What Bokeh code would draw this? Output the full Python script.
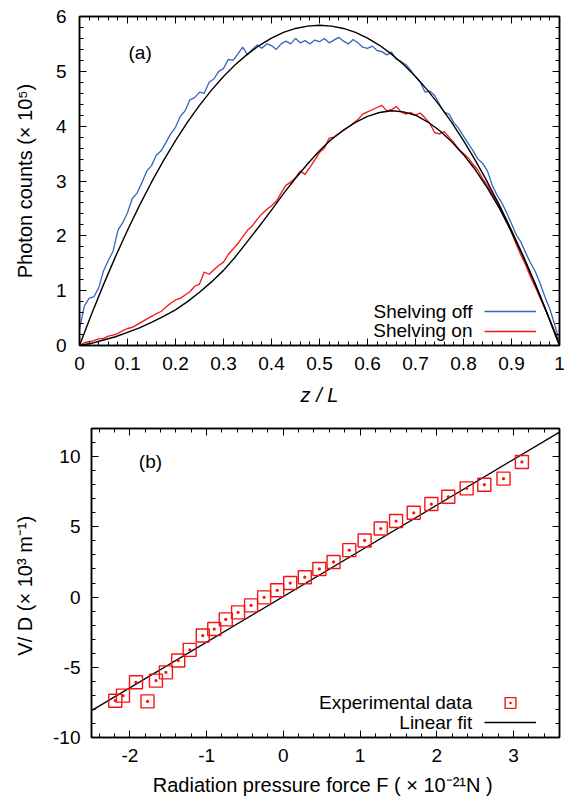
from bokeh.plotting import figure
from bokeh.layouts import column
from bokeh.models import (LinearAxis, SingleIntervalTicker, CustomJSTickFormatter,
                          Label, Legend, LegendItem, Range1d)
from bokeh.embed import file_html
from bokeh.resources import INLINE

FONT = "Liberation Sans"

# ---------------- panel (a) data ----------------
z_data = [0.00, 0.01, 0.02, 0.03, 0.04, 0.05, 0.06, 0.07, 0.08, 0.09,
          0.10, 0.11, 0.12, 0.13, 0.14, 0.15, 0.16, 0.17, 0.18, 0.19,
          0.20, 0.21, 0.22, 0.23, 0.24, 0.25, 0.26, 0.27, 0.28, 0.29,
          0.30, 0.31, 0.32, 0.33, 0.34, 0.35, 0.36, 0.37, 0.38, 0.39,
          0.40, 0.41, 0.42, 0.43, 0.44, 0.45, 0.46, 0.47, 0.48, 0.49,
          0.50, 0.51, 0.52, 0.53, 0.54, 0.55, 0.56, 0.57, 0.58, 0.59,
          0.60, 0.61, 0.62, 0.63, 0.64, 0.65, 0.66, 0.67, 0.68, 0.69,
          0.70, 0.71, 0.72, 0.73, 0.74, 0.75, 0.76, 0.77, 0.78, 0.79,
          0.80, 0.81, 0.82, 0.83, 0.84, 0.85, 0.86, 0.87, 0.88, 0.89,
          0.90, 0.91, 0.92, 0.93, 0.94, 0.95, 0.96, 0.97, 0.98, 0.99, 1.00]

shelving_off = [0.30, 0.72, 0.86, 0.89, 1.05, 1.36, 1.55, 1.72, 2.10, 2.24,
                2.42, 2.68, 2.78, 2.97, 3.18, 3.28, 3.47, 3.55, 3.70, 3.86,
                3.98, 4.18, 4.28, 4.48, 4.52, 4.62, 4.60, 4.80, 4.86, 5.00,
                5.05, 5.22, 5.20, 5.32, 5.44, 5.30, 5.40, 5.48, 5.42, 5.50,
                5.47, 5.40, 5.50, 5.55, 5.50, 5.60, 5.52, 5.56, 5.50, 5.57,
                5.54, 5.60, 5.52, 5.57, 5.62, 5.55, 5.50, 5.58, 5.52, 5.44,
                5.42, 5.46, 5.38, 5.36, 5.30, 5.35, 5.22, 5.18, 5.12, 5.02,
                4.90, 4.80, 4.62, 4.64, 4.56, 4.40, 4.25, 4.22, 4.06, 3.96,
                3.82, 3.68, 3.55, 3.40, 3.32, 3.18, 2.92, 2.74, 2.60, 2.42,
                2.22, 2.02, 1.88, 1.68, 1.50, 1.34, 1.12, 0.88, 0.66, 0.38, 0.08]

shelving_on = [0.00, 0.05, 0.07, 0.09, 0.12, 0.13, 0.17, 0.19, 0.22, 0.27,
               0.31, 0.33, 0.38, 0.43, 0.48, 0.53, 0.58, 0.62, 0.70, 0.77,
               0.83, 0.86, 0.92, 0.98, 1.08, 1.12, 1.34, 1.30, 1.38, 1.46,
               1.52, 1.66, 1.76, 1.86, 1.98, 2.10, 2.18, 2.30, 2.40, 2.48,
               2.55, 2.63, 2.78, 2.92, 2.98, 3.06, 3.18, 3.12, 3.25, 3.38,
               3.52, 3.60, 3.78, 3.80, 3.86, 3.92, 3.98, 4.05, 4.12, 4.22,
               4.26, 4.30, 4.34, 4.38, 4.28, 4.30, 4.36, 4.26, 4.22, 4.25,
               4.20, 4.24, 4.15, 4.05, 3.88, 3.86, 3.90, 3.80, 3.70, 3.58,
               3.50, 3.42, 3.30, 3.20, 3.04, 2.92, 2.76, 2.62, 2.44, 2.28,
               2.06, 1.84, 1.64, 1.46, 1.24, 1.06, 0.86, 0.66, 0.46, 0.26, 0.03]

z_fit = [0.000, 0.025, 0.050, 0.075, 0.100, 0.125, 0.150, 0.175, 0.200, 0.225,
         0.250, 0.275, 0.300, 0.325, 0.350, 0.375, 0.400, 0.425, 0.450, 0.475,
         0.500, 0.525, 0.550, 0.575, 0.600, 0.625, 0.650, 0.675, 0.700, 0.725,
         0.750, 0.775, 0.800, 0.825, 0.850, 0.875, 0.900, 0.925, 0.950, 0.975, 1.000]

fit_off = [0.000, 0.569, 1.110, 1.621, 2.102, 2.555, 2.978, 3.373, 3.738, 4.073,
           4.380, 4.657, 4.906, 5.125, 5.314, 5.475, 5.606, 5.709, 5.782, 5.825,
           5.840, 5.825, 5.782, 5.709, 5.606, 5.475, 5.314, 5.125, 4.906, 4.657,
           4.380, 4.073, 3.738, 3.373, 2.978, 2.555, 2.102, 1.621, 1.110, 0.569, 0.000]

fit_on = [0.00, 0.04, 0.10, 0.16, 0.24, 0.32, 0.42, 0.53, 0.65, 0.80,
          0.97, 1.16, 1.37, 1.62, 1.90, 2.18, 2.47, 2.77, 3.05, 3.31,
          3.55, 3.76, 3.93, 4.07, 4.18, 4.25, 4.28, 4.26, 4.20, 4.08,
          3.92, 3.72, 3.48, 3.20, 2.87, 2.50, 2.07, 1.61, 1.11, 0.57, 0.00]

# ---------------- panel (b) data ----------------
force = [-2.19, -2.09, -1.92, -1.77, -1.66, -1.53, -1.37, -1.22, -1.05, -0.90,
         -0.75, -0.59, -0.42, -0.25, -0.08, 0.09, 0.28, 0.47, 0.655, 0.86,
         1.06, 1.27, 1.47, 1.70, 1.93, 2.15, 2.39, 2.62, 2.87, 3.11]
v_over_d = [-7.38, -7.02, -6.07, -7.43, -5.95, -5.36, -4.52, -3.76, -2.74, -2.28,
            -1.59, -1.09, -0.59, -0.02, 0.48, 1.00, 1.41, 2.00, 2.50, 3.34,
            4.03, 4.88, 5.41, 6.00, 6.62, 7.14, 7.74, 8.00, 8.43, 9.62]
fit_force = [-2.5, 3.6]
fit_vd = [-8.09, 11.74]

BLUE = "#3366bb"
RED = "#f51414"

# frame geometry (page pixels)
A_L, A_R, A_T, A_B = 79, 559, 16, 345
B_L, B_R, B_T, B_B = 91, 559, 428, 738
AX0, AX1, AY0, AY1 = 0.0, 1.0, 0.0, 6.0
BX0, BX1, BY0, BY1 = -2.5, 3.6, -10.0, 12.0
H1, H2 = 414, 384


def a_x(px):
    return AX0 + (px - A_L) * (AX1 - AX0) / (A_R - A_L)


def a_y(py):
    return AY0 + (A_B - py) * (AY1 - AY0) / (A_B - A_T)


def b_x(px):
    return BX0 + (px - B_L) * (BX1 - BX0) / (B_R - B_L)


def b_y(py):
    return BY0 + (B_B - py) * (BY1 - BY0) / (B_B - B_T)


FMT = "return String(Math.round(tick*100)/100)"


def make_fig(width, height, xr, yr, bl, br, bt, bb, xint, yint):
    p = figure(width=width, height=height, x_range=Range1d(*xr), y_range=Range1d(*yr),
               output_backend="svg", toolbar_location=None, frame_align=False,
               min_border_left=bl, min_border_right=br, min_border_top=bt, min_border_bottom=bb)
    p.grid.visible = False
    p.outline_line_color = "black"
    p.outline_line_width = 1.5
    p.add_layout(LinearAxis(), "above")
    p.add_layout(LinearAxis(), "right")
    for ax in p.xaxis:
        ax.ticker = SingleIntervalTicker(interval=xint, num_minor_ticks=5)
    for ax in p.yaxis:
        ax.ticker = SingleIntervalTicker(interval=yint, num_minor_ticks=5)
    for ax in p.axis:
        ax.major_tick_in = 7
        ax.major_tick_out = 0
        ax.minor_tick_in = 4
        ax.minor_tick_out = 0
        ax.axis_line_width = 1.5
        ax.major_tick_line_width = 1
        ax.minor_tick_line_width = 1
        ax.major_label_text_font = FONT
        ax.major_label_text_font_size = "19px"
        ax.major_label_text_color = "black"
        ax.axis_label_text_font = FONT
        ax.axis_label_text_font_size = "20px"
        ax.axis_label_text_font_style = "normal"
        ax.axis_label_text_color = "black"
        ax.formatter = CustomJSTickFormatter(code=FMT)
    for ax in (p.above[0], p.right[0]):
        ax.major_label_text_font_size = "0px"
        ax.major_label_text_color = None
        ax.major_label_standoff = 0
    return p


def key_legend(renderer, x, y, gw, gh):
    return Legend(items=[LegendItem(label=" ", renderers=[renderer])],
                  location=(x, y), glyph_width=gw, glyph_height=gh,
                  label_standoff=0, label_width=0, label_height=gh,
                  label_text_font_size="1px", label_text_alpha=0,
                  padding=0, margin=0, spacing=0,
                  border_line_color=None, background_fill_alpha=0)


def txt(x, y, text, align="left", style="normal", size="19px"):
    return Label(x=x, y=y, text=text, text_align=align, text_baseline="middle",
                 text_font=FONT, text_font_size=size, text_font_style=style,
                 text_color="black")


# ---------------- panel (a) ----------------
p1 = make_fig(567, H1, (AX0, AX1), (AY0, AY1), A_L, 567 - A_R, A_T, H1 - A_B, 0.1, 1)
p1.below[0].major_label_standoff = 11
p1.below[0].axis_label = "z / L"
p1.below[0].axis_label_text_font_style = "italic"
p1.below[0].axis_label_standoff = 11
p1.left[0].major_label_standoff = 13
p1.left[0].axis_label = "Photon counts (× 10⁵)"
p1.left[0].axis_label_standoff = 17

r_off = p1.line(z_data, shelving_off, line_color=BLUE, line_width=1.3)
r_on = p1.line(z_data, shelving_on, line_color=RED, line_width=1.3)
p1.line(z_fit, fit_off, line_color="black", line_width=1.4)
p1.line(z_fit, fit_on, line_color="black", line_width=1.4)

p1.add_layout(txt(a_x(128), a_y(51.5), "(a)"))
p1.add_layout(txt(a_x(472), a_y(310.9), "Shelving off", align="right"))
p1.add_layout(txt(a_x(472), a_y(329.9), "Shelving on", align="right"))
p1.add_layout(key_legend(r_off, 484 - A_L, A_B - 321, 52, 20))
p1.add_layout(key_legend(r_on, 484 - A_L, A_B - 341, 52, 20))

# ---------------- panel (b) ----------------
p2 = make_fig(567, H2, (BX0, BX1), (BY0, BY1), B_L, 567 - B_R, B_T - H1, H1 + H2 - B_B, 1, 5)
p2.below[0].major_label_standoff = 11
p2.below[0].axis_label = "Radiation pressure force F  ( × 10⁻²¹N )"
p2.below[0].axis_label_standoff = 9
p2.left[0].major_label_standoff = 11
p2.left[0].axis_label = "V/ D  (× 10³ m⁻¹)"
p2.left[0].axis_label_standoff = 14

r_fit = p2.line(fit_force, fit_vd, line_color="black", line_width=1.3)
r_pts = p2.scatter(force, v_over_d, marker="square_dot", size=13, fill_color=None,
                   line_color=RED, line_width=1.4)

p2.add_layout(txt(b_x(138.3), b_y(461.5), "(b)"))
p2.add_layout(txt(b_x(471.7), b_y(703.2), "Experimental data", align="right"))
p2.add_layout(txt(b_x(471.7), b_y(722.5), "Linear fit", align="right"))
p2.add_layout(key_legend(r_pts, 484 - B_L, B_B - 717, 52, 27))
p2.add_layout(key_legend(r_fit, 484 - B_L, B_B - 733, 52, 20))

layout = column(p1, p2)
open("out.html", "w").write(file_html(layout, INLINE))
